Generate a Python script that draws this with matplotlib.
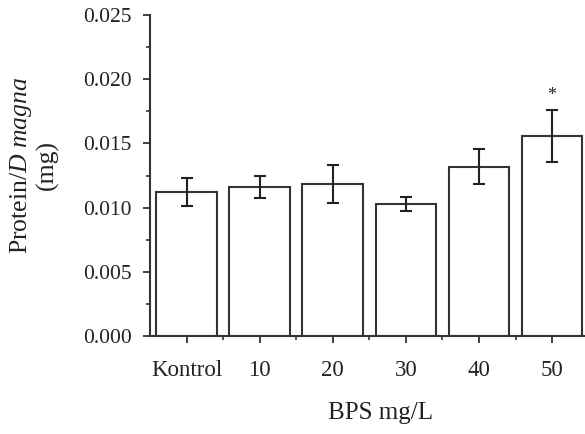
import matplotlib
matplotlib.use("Agg")
import matplotlib.pyplot as plt
from matplotlib.ticker import MultipleLocator, FixedLocator

categories = ["Kontrol", "10", "20", "30", "40", "50"]
values = [0.01122, 0.01161, 0.01187, 0.01029, 0.01320, 0.01558]
errors = [0.00108, 0.00083, 0.00148, 0.00052, 0.00134, 0.00200]
significance = ["", "", "", "", "", "*"]

plt.rcParams['font.family'] = ['Liberation Serif', 'DejaVu Serif']
plt.rcParams['mathtext.fontset'] = 'custom'
plt.rcParams['mathtext.rm'] = 'Liberation Serif'
plt.rcParams['mathtext.it'] = 'Liberation Serif:italic'

fig = plt.figure(figsize=(5.85, 4.34), dpi=100)
ax = fig.add_axes([0.2564, 0.2258, 0.7436, 0.7396])

x = list(range(len(categories)))
ec = "#333333"
ax.bar(x, values, width=0.83, color="white", edgecolor=ec, linewidth=1.5, zorder=2)
ax.errorbar(x, values, yerr=errors, fmt="none", ecolor="#222222", elinewidth=1.5,
            capsize=4, capthick=1.5, zorder=3)
for xi, v, e, s in zip(x, values, errors, significance):
    if s:
        ax.text(xi, v + e + 0.0005, s, ha="center", va="bottom", fontsize=13, color="#222222")

ax.set_xlim(-0.5, 5.45)
ax.set_ylim(0, 0.025)
ax.yaxis.set_major_locator(MultipleLocator(0.005))
ax.yaxis.set_minor_locator(MultipleLocator(0.0025))
ax.set_yticklabels([f"{t:.3f}" for t in ax.get_yticks()])
ax.set_xticks(x)
ax.set_xticklabels(categories)
ax.xaxis.set_minor_locator(FixedLocator([i + 0.5 for i in x[:-1]]))

for s in ["top", "right"]:
    ax.spines[s].set_visible(False)
for s in ["left", "bottom"]:
    ax.spines[s].set_color(ec)
    ax.spines[s].set_linewidth(1.5)

ax.tick_params(axis="both", which="major", colors=ec, labelcolor="#222222",
               length=5, width=1.3, direction="out")
ax.tick_params(axis="both", which="minor", length=3, width=1.2, colors=ec, direction="out")
ax.tick_params(axis="x", which="major", pad=12, labelsize=16.5)
ax.tick_params(axis="y", which="major", pad=8, labelsize=15.5)

ax.set_xlabel("BPS mg/L", fontsize=18, color="#222222")
ax.xaxis.set_label_coords(0.529, -0.205)
ax.set_ylabel("Protein/$\\mathit{D\\ magna}$\n(mg)", fontsize=18.5, color="#222222",
              linespacing=1.1)
ax.yaxis.set_label_coords(-0.21, 0.533)

fig.savefig("out.png", dpi=100)
